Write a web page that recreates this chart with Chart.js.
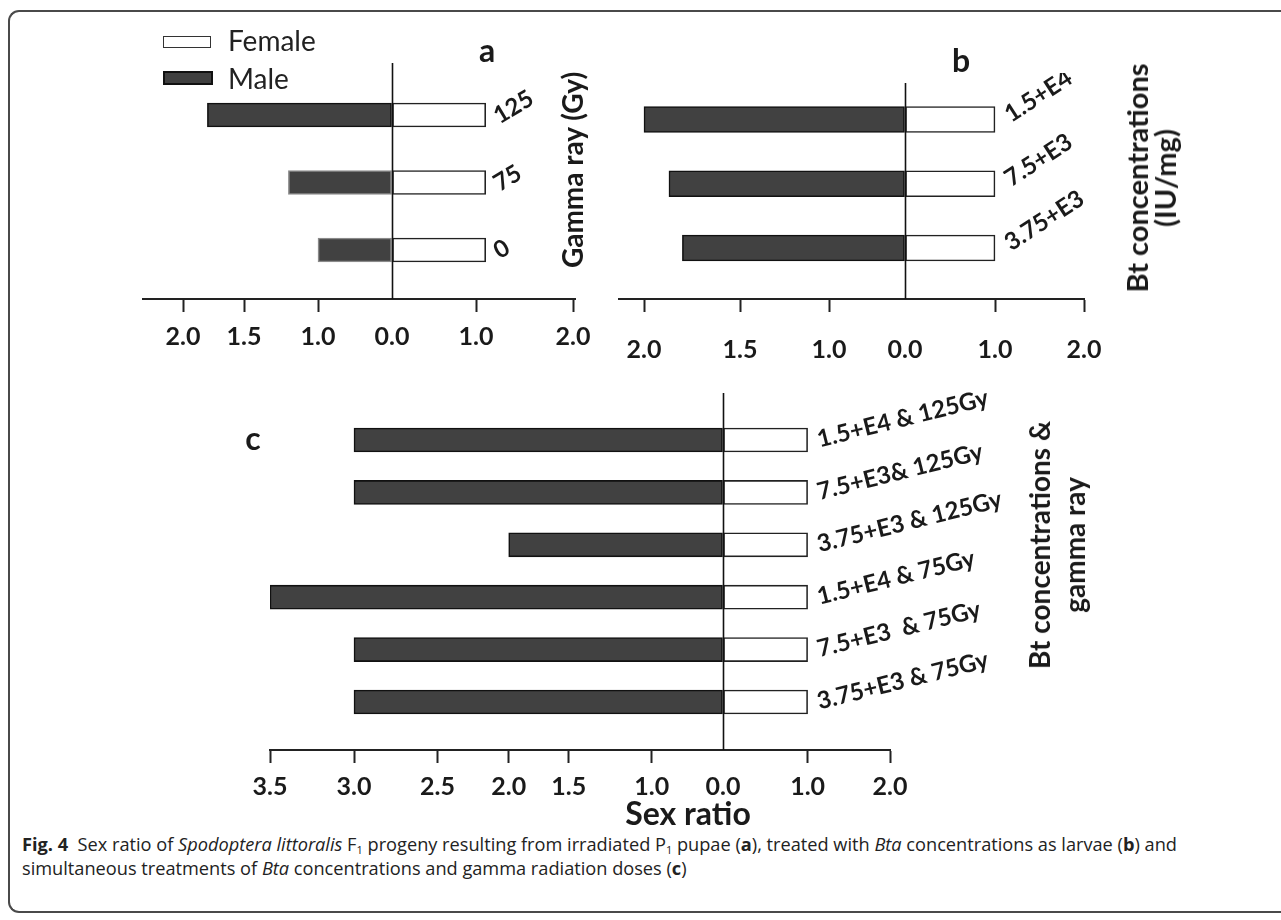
<!DOCTYPE html>
<html><head><meta charset="utf-8">
<script src="https://cdn.jsdelivr.net/npm/chart.js@4.4.1/dist/chart.umd.min.js"></script>
<style>
html,body{margin:0;padding:0;background:#fff;}
body{width:1281px;height:920px;position:relative;overflow:hidden;font-family:Lato,"Open Sans",sans-serif;color:#1a1a1a;}
.frame{position:absolute;left:8px;top:10px;width:1320px;height:903px;border:2px solid #4a4a4a;border-right:none;border-radius:11px 0 0 11px;box-sizing:border-box;}
.panel{position:absolute;}
.rot{position:absolute;transform:translate(-50%,-50%) rotate(-90deg);white-space:nowrap;text-align:center;font-weight:700;font-size:28px;}
.letter{position:absolute;font-weight:700;font-size:32px;line-height:32px;transform:translate(-50%,-50%);}
.lg-box{position:absolute;box-sizing:border-box;}
.lg-text{position:absolute;font-size:28px;line-height:30px;color:#222;}
.cap{position:absolute;left:22px;top:832px;font-family:"Open Sans",sans-serif;font-size:18.2px;line-height:24px;white-space:nowrap;color:#222;}
.cap sub{font-size:11px;vertical-align:-3px;line-height:0;}
</style>
</head><body>
<div class="frame"></div>

<div class="panel" id="pa" style="left:83px;top:53px;width:602px;height:316px;"><canvas id="ca"></canvas></div>
<div class="panel" id="pb" style="left:589px;top:73px;width:555px;height:296px;"><canvas id="cb"></canvas></div>
<div class="panel" id="pc" style="left:230px;top:383px;width:810px;height:437px;"><canvas id="cc"></canvas></div>

<div class="lg-box" style="left:163px;top:36px;width:48px;height:12px;border:1.5px solid #333;background:#fff;"></div>
<div class="lg-text" style="left:228px;top:25px;">Female</div>
<div class="lg-box" style="left:163px;top:71px;width:50px;height:14px;border:2.5px solid #111;background:#404040;"></div>
<div class="lg-text" style="left:228px;top:63px;">Male</div>

<div class="letter" style="left:487px;top:50px;">a</div>
<div class="letter" style="left:961px;top:60px;">b</div>
<div class="letter" style="left:253px;top:438px;">c</div>

<div class="rot" style="left:572px;top:170px;line-height:30px;">Gamma ray (Gy)</div>
<div class="rot" style="left:1151px;top:178px;line-height:28px;font-size:29px;">Bt concentrations<br>(IU/mg)</div>
<div class="rot" style="left:1057px;top:545px;line-height:35px;">Bt concentrations &amp;<br>gamma ray</div>
<div style="position:absolute;left:688px;top:812px;transform:translate(-50%,-50%);font-weight:700;font-size:32px;white-space:nowrap;">Sex ratio</div>

<div class="cap"><b>Fig. 4</b>&nbsp; Sex ratio of <i>Spodoptera littoralis</i> F<sub>1</sub> progeny resulting from irradiated P<sub>1</sub> pupae (<b>a</b>), treated with <i>Bta</i> concentrations as larvae (<b>b</b>) and<br>simultaneous treatments of <i>Bta</i> concentrations and gamma radiation doses (<b>c</b>)</div>

<script>
// ---------- data ----------
const catsA = ['125', '75', '0'];
const maleA = [1.8, 1.2, 1.0];
const femaleA = [1.1, 1.1, 1.1];
const tickValuesA = [-2, -1.5, -1, 0, 1, 2];
const tickLabelsA = ['2.0', '1.5', '1.0', '0.0', '1.0', '2.0'];

const catsB = ['1.5+E4', '7.5+E3', '3.75+E3'];
const maleB = [2.0, 1.87, 1.8];
const femaleB = [1.0, 1.0, 1.0];
const tickValuesB = [-2, -1.5, -1, 0, 1, 2];
const tickLabelsB = ['2.0', '1.5', '1.0', '0.0', '1.0', '2.0'];

const catsC = ['1.5+E4 & 125Gy', '7.5+E3& 125Gy', '3.75+E3 & 125Gy', '1.5+E4 & 75Gy', '7.5+E3  & 75Gy', '3.75+E3 & 75Gy'];
const maleC = [3.0, 3.0, 2.0, 3.5, 3.0, 3.0];
const femaleC = [1.0, 1.0, 1.0, 1.0, 1.0, 1.0];
const tickValuesC = [-3.5, -3, -2.5, -2, -1.5, -1, 0, 1, 2];
const tickLabelsC = ['3.5', '3.0', '2.5', '2.0', '1.5', '1.0', '0.0', '1.0', '2.0'];

// ---------- an axis whose tick spacing is uneven (as in the original figure) ----------
class KnotScale extends Chart.LinearScale {
  static id = 'knot';
  static defaults = {};
  determineDataLimits() {
    const v = this.options.tickValues;
    this.min = v[0]; this.max = v[v.length - 1];
  }
  buildTicks() { return this.options.tickValues.map(value => ({ value })); }
  _seg(arr, x) { let i = 0; while (i < arr.length - 2 && x > arr[i + 1]) i++; return i; }
  _pos(value) {
    const v = this.options.tickValues, p = this.options.positions;
    const i = this._seg(v, value);
    return p[i] + (value - v[i]) * (p[i + 1] - p[i]) / (v[i + 1] - v[i]);
  }
  getPixelForValue(value) {
    if (value === null || value === undefined || isNaN(value)) return NaN;
    const [a, b] = this.options.extent;
    return this.getPixelForDecimal((this._pos(value) - a) / (b - a));
  }
  getValueForPixel(pixel) {
    const [a, b] = this.options.extent;
    const pos = a + this.getDecimalForPixel(pixel) * (b - a);
    const v = this.options.tickValues, p = this.options.positions;
    const i = this._seg(p, pos);
    return v[i] + (pos - p[i]) * (v[i + 1] - v[i]) / (p[i + 1] - p[i]);
  }
}
Chart.register(KnotScale);

const catLabels = {
  id: 'catLabels',
  afterDatasetsDraw(chart, args, o) {
    const { ctx } = chart, x = chart.scales.x, y = chart.scales.y;
    ctx.save();
    ctx.font = o.font; ctx.fillStyle = '#1a1a1a';
    ctx.textAlign = 'left'; ctx.textBaseline = 'middle';
    o.labels.forEach((lab, i) => {
      const px = x.getPixelForValue(o.anchor[i]) + o.dx;
      const py = y.getPixelForValue(i) + o.dy;
      ctx.save(); ctx.translate(px, py); ctx.rotate(-o.angle * Math.PI / 180);
      ctx.fillText(lab, 0, 0); ctx.restore();
    });
    ctx.restore();
  }
};
const zeroLine = {
  id: 'zeroLine',
  afterDatasetsDraw(chart) {
    const { ctx, chartArea } = chart, x = chart.scales.x;
    const px = Math.round(x.getPixelForValue(0)) + 0.5;
    ctx.save(); ctx.strokeStyle = '#111'; ctx.lineWidth = 1.6;
    ctx.beginPath(); ctx.moveTo(px, chartArea.top); ctx.lineTo(px, chartArea.bottom); ctx.stroke();
    ctx.restore();
  }
};

function makePanel(id, cfg) {
  const toXY = (arr, sign) => arr.map((v, i) => ({ x: sign * v, y: i }));
  return new Chart(document.getElementById(id), {
    type: 'bar',
    data: {
      datasets: [
        { label: 'Male', data: toXY(cfg.male, -1), backgroundColor: '#414141', borderColor: cfg.maleBorder, borderWidth: 1.6, borderSkipped: false, grouped: false, barThickness: cfg.thick },
        { label: 'Female', data: toXY(cfg.female, 1), backgroundColor: '#ffffff', borderColor: '#222', borderWidth: 1.6, borderSkipped: false, grouped: false, barThickness: cfg.thick }
      ]
    },
    options: {
      indexAxis: 'y', responsive: true, maintainAspectRatio: false, animation: false,
      layout: { padding: cfg.pad },
      plugins: {
        legend: { display: false }, tooltip: { enabled: false },
        catLabels: { labels: cfg.cats, anchor: cfg.female, dx: cfg.ldx, dy: cfg.ldy, angle: cfg.angle, font: cfg.lfont }
      },
      scales: {
        y: { type: 'linear', reverse: true, offset: false, min: cfg.ymin, max: cfg.ymax, display: false, grid: { offset: false } },
        x: {
          type: 'knot', position: 'bottom',
          tickValues: cfg.tickValues, positions: cfg.positions, extent: cfg.extent,
          border: { display: true, color: '#222', width: 2 },
          grid: { display: true, drawOnChartArea: false, drawTicks: true, tickLength: 13, tickWidth: 2,
                  tickColor: c => (c.tick && c.tick.value === 0) ? 'rgba(0,0,0,0)' : '#222' },
          ticks: { autoSkip: false, maxRotation: 0, minRotation: 0, padding: cfg.tpad, color: '#1a1a1a',
                   font: { family: 'Lato', weight: 'bold', size: 25, lineHeight: 1 },
                   callback: (v, i) => cfg.tickLabels[i] },
          afterFit: s => { s.height = 70; }
        }
      }
    },
    plugins: [catLabels, zeroLine]
  });
}

makePanel('ca', {
  cats: catsA, male: maleA, female: femaleA, tickValues: tickValuesA, tickLabels: tickLabelsA,
  positions: [-209, -148, -74, 0, 84, 181], extent: [-249, 183],
  maleBorder: ['#111', '#8a8a8a', '#8a8a8a'], thick: 24,
  pad: { left: 60, right: 110, top: 10, bottom: 0 },
  ymin: -0.770, ymax: 2.726, tpad: 12,
  ldx: 10, ldy: 3, angle: 31, lfont: 'bold 24px Lato'
});
makePanel('cb', {
  cats: catsB, male: maleB, female: femaleB, tickValues: tickValuesB, tickLabels: tickLabelsB,
  positions: [-261, -165, -76, 0, 90, 179], extent: [-286, 179],
  maleBorder: '#111', thick: 26,
  pad: { left: 30, right: 60, top: 10, bottom: 0 },
  ymin: -0.568, ymax: 2.794, tpad: 25,
  ldx: 12, ldy: -3, angle: 33, lfont: 'bold 24px Lato'
});
makePanel('cc', {
  cats: catsC, male: maleC, female: femaleC, tickValues: tickValuesC, tickLabels: tickLabelsC,
  positions: [-453, -369, -285.5, -214.3, -154.2, -71.2, 0, 84.6, 167], extent: [-453, 167],
  maleBorder: '#111', thick: 24,
  pad: { left: 40, right: 150, top: 10, bottom: 0 },
  ymin: -0.897, ymax: 5.916, tpad: 11,
  ldx: 10, ldy: 0, angle: 14, lfont: 'bold 24px Lato'
});
</script>
</body></html>
